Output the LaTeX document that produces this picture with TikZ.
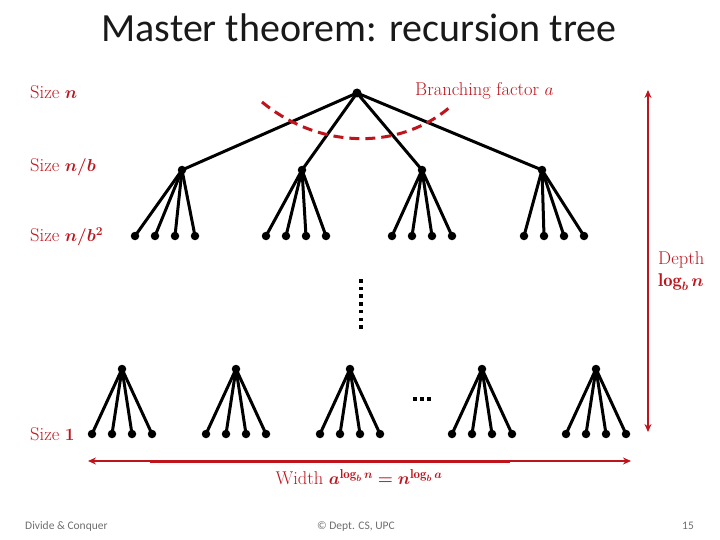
\documentclass[tikz,border=0pt]{standalone}
\usepackage{amsmath,bm}
\usepackage{fontspec}
\newfontfamily\slidefont{Carlito}
\usetikzlibrary{arrows.meta}
\definecolor{slidered}{RGB}{192,20,28}
\definecolor{footgrey}{RGB}{110,110,110}
\tikzset{
  dot/.style={circle,fill=black,inner sep=0pt,minimum size=8.5pt},
  edge/.style={line width=3pt},
  redlabel/.style={text=slidered,font=\fontsize{18.5}{20}\selectfont,inner sep=0pt},
  footer/.style={text=footgrey,font=\slidefont\fontsize{11.5}{13}\selectfont,inner sep=0pt}
}
\begin{document}
\begin{tikzpicture}[x=1pt,y=-1pt]
\useasboundingbox (0,0) rectangle (720,540);
\node[font=\slidefont\fontsize{40}{44}\selectfont,text=black!90] (title) at (359,28) {Master theorem: recursion tree};
% top of the tree
\node[dot,minimum size=9pt] (root) at (357,93) {};
\node[dot] (c1) at (182,170) {};
\node[dot] (c2) at (302,170) {};
\node[dot] (c3) at (422,170) {};
\node[dot] (c4) at (542,170) {};
\foreach \c in {1,...,4} \draw[edge] (root.center)--(c\c.center);
\foreach \c/\x in {1/135,2/266,3/392,4/524}
  \foreach \k in {0,...,3} {
    \node[dot] (g\c\k) at (\x+20*\k,236) {};
    \draw[edge] (c\c.center)--(g\c\k.center);
  }
% bottom level
\foreach \p/\x in {1/122,2/236,3/350,4/482,5/596} {
  \node[dot] (p\p) at (\x,369) {};
  \foreach \k in {0,...,3} {
    \node[dot] (l\p\k) at (\x-30+20*\k,434) {};
    \draw[edge] (p\p.center)--(l\p\k.center);
  }
}
% dots
\foreach \k in {0,...,6} \fill (359,279+7.7*\k) rectangle ++(3.5,3.5);
\foreach \k in {0,...,2} \fill (413+7*\k,397) rectangle ++(3.5,3.5);
% branching factor
\coordinate (bfa) at (262,102);
\coordinate (bfb) at (450,107);
\draw[slidered,line width=3pt,dash pattern=on 10pt off 6pt] (bfa) .. controls (320,150) and (400,150) .. (bfb);
\node[redlabel,anchor=west] (branch) at (415,91) {Branching factor $a$};
% size labels
\node[redlabel,anchor=west] (s0) at (30,92) {Size $\bm{n}$};
\node[redlabel,anchor=west] (s1) at (30,167) {Size $\bm{n/b}$};
\node[redlabel,anchor=west] (s2) at (30,237) {Size $\bm{n/b^2}$};
\node[redlabel,anchor=west] (s3) at (30,434) {Size $\bm{1}$};
% depth
\coordinate (dtop) at (648,90);
\coordinate (dbot) at (648,432);
\draw[slidered,line width=2pt,{Stealth[length=8pt,width=7pt]}-{Stealth[length=8pt,width=7pt]}] (dtop)--(dbot);
\node[redlabel,anchor=west] (depth) at (658,260) {Depth};
\node[redlabel,anchor=west] (logn) at (658,282) {$\bm{\log_b n}$};
% width
\coordinate (wleft) at (88,461);
\coordinate (wright) at (631,461);
\draw[slidered,line width=2pt,{Stealth[length=8pt,width=7pt]}-{Stealth[length=8pt,width=7pt]}] (wleft)--(wright);
\draw[slidered,line width=3pt] (150,461)--(510,461);
\node[redlabel] (width) at (359,477) {Width $\bm{a^{\log_b n}=n^{\log_b a}}$};
% footer
\node[footer,anchor=west] (f1) at (25,526) {Divide \& Conquer};
\node[footer] (f2) at (356,526) {\textcopyright{} Dept. CS, UPC};
\node[footer] (f3) at (688,526) {15};
\end{tikzpicture}
\end{document}
